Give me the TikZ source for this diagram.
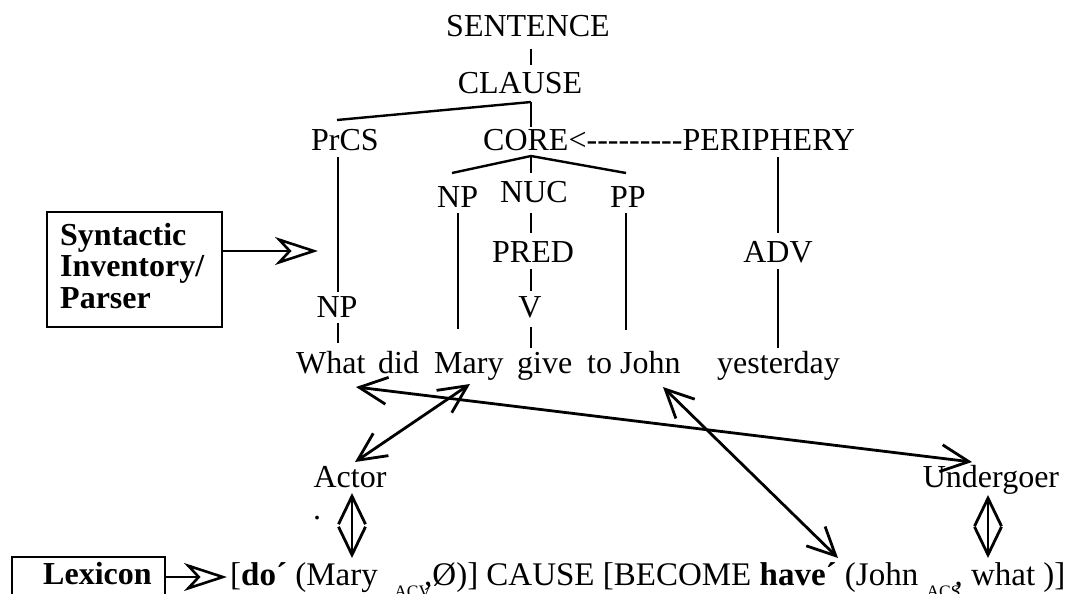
\documentclass[tikz,border=0pt]{standalone}
\usepackage{fontspec}
\setmainfont{Liberation Serif}
\usetikzlibrary{arrows.meta}
% single hyphens kept apart so they never merge into dashes
\newcommand\hy{\mbox{-}}
% lowered small subscript used in the logical structure
\newcommand\lowsub[1]{\raisebox{-12pt}{\fontsize{17.5}{17.5}\selectfont #1}}
\begin{document}
\begin{tikzpicture}[x=1pt,y=-1pt,
  lbl/.style={font=\fontsize{32}{38}\selectfont, inner sep=0pt, anchor=base},
  lblw/.style={lbl, anchor=base west},
  boldw/.style={lblw, font=\fontsize{32}{38}\selectfont\bfseries},
  branch/.style={line width=2.4pt},
  link/.style={line width=2.8pt,
    {Straight Barb[length=28pt,width=27pt]}-{Straight Barb[length=28pt,width=27pt]}},
  feed/.style={line width=2.6pt,
    -{Stealth[open,length=43pt,width=28pt,inset=13pt]}},
  frame/.style={draw, line width=2.4pt}]
\useasboundingbox (0,0) rectangle (1068,594);

% ---- tree labels
\node[lbl]  (sent)   at (528,37)  {SENTENCE};
\node[lbl]  (clause) at (520,93)  {CLAUSE};
\node[lblw] (prcs)   at (311,150) {PrCS};
\node[lblw] (core)   at (483,150) {CORE<\hy\hy\hy\hy\hy\hy\hy\hy\hy PERIPHERY};
\node[lblw] (npc)    at (437,207) {NP};
\node[lblw] (nuc)    at (500,202) {NUC};
\node[lblw] (pp)     at (610,207) {PP};
\node[lblw] (pred)   at (492,262) {PRED};
\node[lbl]  (adv)    at (778,262) {ADV};
\node[lbl]  (npw)    at (337,317) {NP};
\node[lbl]  (v)      at (530,317) {V};

% ---- the sentence
\node[lblw] (what)  at (296,373) {What};
\node[lblw] (did)   at (378,373) {did};
\node[lblw] (mary)  at (434,373) {Mary};
\node[lblw] (give)  at (517,373) {give};
\node[lblw] (john)  at (587,373) {to John};
\node[lblw] (yday)  at (717,373) {yesterday};

% ---- macroroles
\node[lbl] (actor) at (350,487) {Actor};
\node[lbl] (under) at (991,487) {Undergoer};
\node[lbl] (dot)   at (317,519) {.};

% ---- logical structure
\node[lblw, font=\fontsize{33}{38}\selectfont] (ls) at (230,585)
  {[\textbf{do´} (Mary\ \ \lowsub{ACV}\kern-7pt,Ø)] CAUSE [BECOME \textbf{have´} (John\ \lowsub{ACS}\kern-6pt, what )]};

% ---- syntactic inventory box
\node[frame, minimum width=175pt, minimum height=115pt, inner sep=0pt] (syn) at (134.5,269.5) {};
\node[boldw] (synA) at (60,245) {Syntactic};
\node[boldw] (synB) at (60,276) {Inventory/};
\node[boldw] (synC) at (60,308) {Parser};

% ---- lexicon box (runs off the lower edge)
\node[boldw] (lex) at (43,584) {Lexicon};
\draw[frame] (12,600) |- (165,557) -- (165,600);

% ---- branch points
\coordinate (s1) at (531,49);   \coordinate (s2) at (531,65);
\coordinate (c0) at (531,102);  \coordinate (c1) at (531,127);
\coordinate (prcsTop) at (337,120);
\coordinate (k0) at (531,156);
\coordinate (npTop) at (452,173); \coordinate (nucTop) at (531,173); \coordinate (ppTop) at (626,173);
\coordinate (pr1) at (338,157);  \coordinate (pr2) at (338,292);
\coordinate (nw1) at (338,323);  \coordinate (nw2) at (338,343);
\coordinate (nc1) at (458,213);  \coordinate (nc2) at (458,329);
\coordinate (n1) at (531,213);   \coordinate (n2) at (531,233);
\coordinate (p1) at (531,269);   \coordinate (p2) at (531,291);
\coordinate (v1) at (531,327);   \coordinate (v2) at (531,348);
\coordinate (pp1) at (626,213);  \coordinate (pp2) at (626,330);
\coordinate (pe1) at (778,157);  \coordinate (pe2) at (778,233);
\coordinate (ad1) at (778,269);  \coordinate (ad2) at (778,348);

\draw[branch] (s1) -- (s2);
\draw[branch] (c0) -- (c1);
\draw[branch] (c0) -- (prcsTop);
\draw[branch] (k0) -- (npTop);
\draw[branch] (k0) -- (nucTop);
\draw[branch] (k0) -- (ppTop);
\draw[branch] (pr1) -- (pr2);
\draw[branch] (nw1) -- (nw2);
\draw[branch] (nc1) -- (nc2);
\draw[branch] (n1) -- (n2);
\draw[branch] (p1) -- (p2);
\draw[branch] (v1) -- (v2);
\draw[branch] (pp1) -- (pp2);
\draw[branch] (pe1) -- (pe2);
\draw[branch] (ad1) -- (ad2);

% ---- linking arrows
\coordinate (aWhat) at (356,387);  \coordinate (aUnd) at (972,462);
\coordinate (aMary) at (470,384);  \coordinate (aAct) at (355,462);
\coordinate (aJohn) at (663,387);  \coordinate (aHave) at (838,558);
\coordinate (aA1) at (352,493);    \coordinate (aA2) at (352,558);
\coordinate (aU1) at (988,495);    \coordinate (aU2) at (988,558);

\draw[link] (aWhat) -- (aUnd);
\draw[link] (aMary) -- (aAct);
\draw[link] (aJohn) -- (aHave);
\draw[link] (aA1) -- (aA2);
\draw[link] (aU1) -- (aU2);

% ---- feeding arrows
\coordinate (synOut) at (222,251); \coordinate (synIn) at (318,251);
\coordinate (lexOut) at (165,577); \coordinate (lexIn) at (227,577);
\draw[feed] (synOut) -- (synIn);
\draw[feed] (lexOut) -- (lexIn);
\end{tikzpicture}
\end{document}
